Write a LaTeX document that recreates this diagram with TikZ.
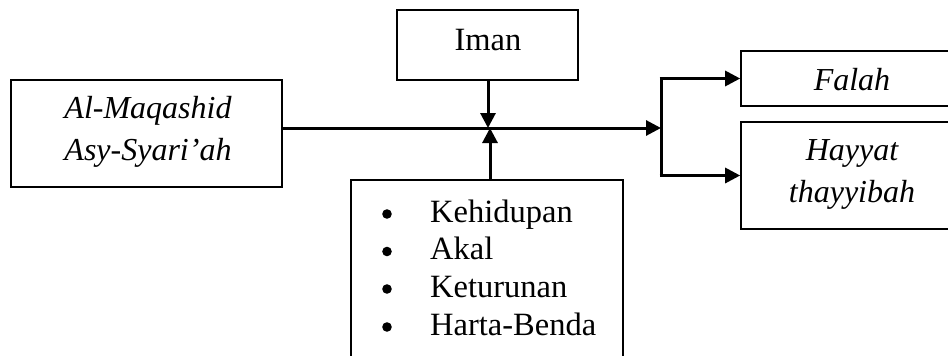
\documentclass[tikz,border=0pt]{standalone}
\usepackage{fontspec}
\setmainfont{Liberation Serif}
\usetikzlibrary{arrows.meta}
\begin{document}
\begin{tikzpicture}[x=1pt,y=-1pt,
  box/.style={draw,line width=1.6pt,rectangle,inner sep=0pt},
  txt/.style={anchor=base,inner sep=0pt,font=\fontsize{32.5}{38}\selectfont},
  itxt/.style={txt,font=\fontsize{32}{38}\selectfont\itshape},
  conn/.style={line width=3pt},
  arr/.style={conn,-{Triangle[length=15pt,width=15pt]}}]
\useasboundingbox (0,0) rectangle (948,356);
\clip (0,0) rectangle (948,356);
% boxes
\node[box,minimum width=271pt,minimum height=107pt] (lb) at (146.5,133.5) {};
\node[box,minimum width=181pt,minimum height=70pt] (iman) at (487.5,45) {};
\node[box,minimum width=272pt,minimum height=200pt] (kb) at (487,280) {};
\node[box,minimum width=230pt,minimum height=55pt] (falah) at (856,78.5) {};
\node[box,minimum width=230pt,minimum height=107pt] (hayyat) at (856,175.5) {};
% texts
\node[itxt] (t1) at (148,118) {Al-Maqashid};
\node[itxt] (t2) at (148,160) {Asy-Syari’ah};
\node[txt] (t3) at (488,50) {Iman};
\node[itxt] (t4) at (852,90) {Falah};
\node[itxt] (t5) at (852,160) {Hayyat};
\node[itxt] (t6) at (852,202) {thayyibah};
\foreach \yy/\w [count=\i] in {222/Kehidupan,259.5/Akal,297/Keturunan,335/Harta-Benda}{
  \fill (387,\yy-8) circle (4.8pt);
  \node[txt,anchor=base west] (k\i) at (430,\yy) {\w};
}
% connectors
\coordinate (split) at (661,128);
\coordinate (meet1) at (488,128);
\coordinate (meet2) at (490,128);
\draw[arr] (lb.east |- split) -- (split);
\draw[arr] (iman.south -| meet1) -- (meet1);
\draw[arr] (kb.north -| meet2) -- (meet2);
\draw[conn] (split |- falah.west) -- (split |- hayyat.west);
\draw[arr] ([xshift=-1.5pt]split |- falah.west) -- (falah.west);
\draw[arr] ([xshift=-1.5pt]split |- hayyat.west) -- (hayyat.west);
\end{tikzpicture}
\end{document}
